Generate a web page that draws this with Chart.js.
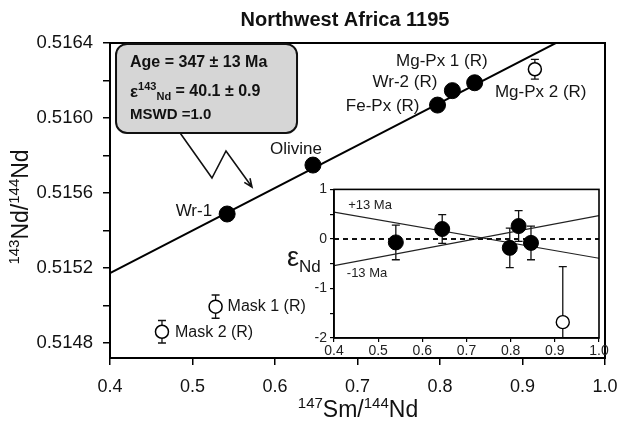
<!DOCTYPE html>
<html>
<head>
<meta charset="utf-8">
<script src="https://cdn.jsdelivr.net/npm/chart.js@4.4.0/dist/chart.umd.min.js"></script>
<style>
  body { margin: 0; background: #fff; }
  #wrap { position: relative; width: 633px; height: 424px; }
  #main { position: absolute; left: 0; top: 0; }
  #inset { position: absolute; left: 280px; top: 178px; }
</style>
</head>
<body>
<div id="wrap">
  <canvas id="main" width="633" height="424"></canvas>
  <canvas id="inset" width="340" height="185"></canvas>
</div>
<script>
const FONT = '"Liberation Sans", Arial, sans-serif';

// Sm-Nd isochron data
const sampleNames = ["Wr-1", "Olivine", "Fe-Px (R)", "Wr-2 (R)", "Mg-Px 1 (R)", "Mg-Px 2 (R)", "Mask 1 (R)", "Mask 2 (R)"];
const smNd = [0.542, 0.646, 0.797, 0.815, 0.842, 0.915, 0.528, 0.463];
const ndNd = [0.515488, 0.515749, 0.516069, 0.516146, 0.516188, 0.516260, 0.514994, 0.514860];
const ndErr = [0, 0, 0, 0, 0, 0.000053, 0.000062, 0.00006];
const onIsochron = [true, true, true, true, true, false, false, false];

// isochron line
const isoX = [0.4, 1.0];
const isoY = [0.515173, 0.516535];

const xTicks = [0.4, 0.5, 0.6, 0.7, 0.8, 0.9, 1.0];
const yTicks = [0.5148, 0.5150, 0.5152, 0.5154, 0.5156, 0.5158, 0.5160, 0.5162, 0.5164];
const yLabelled = ["0.5148", "0.5152", "0.5156", "0.5160", "0.5164"];

// inset: eps Nd deviation from the isochron
const epsX = [0.54, 0.645, 0.798, 0.818, 0.846, 0.918];
const epsNd = [-0.07, 0.2, -0.18, 0.26, -0.08, -1.68];
const epsErr = [0.35, 0.29, 0.4, 0.31, 0.34, 1.12];
const epsOpen = [false, false, false, false, false, true];
const boundX = [0.4, 1.0];
const plus13 = [0.54, -0.39];
const minus13 = [-0.54, 0.47];
const zeroLine = [0, 0];
const epsXTicks = [0.4, 0.5, 0.6, 0.7, 0.8, 0.9, 1.0];
const epsYTicks = [-2, -1.5, -1, -0.5, 0, 0.5, 1];

// where the sample names sit, relative to their point (pixels)
const labelPos = {
  "Wr-1": { dx: -15, dy: -3, align: "right" },
  "Olivine": { dx: -17, dy: -16, align: "center" },
  "Fe-Px (R)": { dx: -18, dy: 1, align: "right" },
  "Wr-2 (R)": { dx: -15, dy: -8, align: "right" },
  "Mg-Px 1 (R)": { dx: 13, dy: -21, align: "right" },
  "Mg-Px 2 (R)": { dx: -40, dy: 23, align: "left" },
  "Mask 1 (R)": { dx: 12, dy: 0, align: "left" },
  "Mask 2 (R)": { dx: 13, dy: 1, align: "left" }
};

// result box and zig-zag pointer, in data units
const boxX = [0.4073, 0.6267];
const boxY = [0.516395, 0.51592];
const arrowX = [0.485, 0.5236, 0.5406, 0.5721];
const arrowY = [0.51592, 0.51568, 0.515824, 0.515632];

// draw a run of text pieces with their own size / vertical shift
function richText(ctx, parts, x, y, align) {
  let total = 0;
  parts.forEach(p => {
    ctx.font = (p.bold ? "bold " : "") + p.size + "px " + FONT;
    p.w = ctx.measureText(p.t).width;
    total += p.w;
  });
  let cx = align === "center" ? x - total / 2 : x;
  parts.forEach(p => {
    ctx.font = (p.bold ? "bold " : "") + p.size + "px " + FONT;
    ctx.fillText(p.t, cx, y + (p.dy || 0));
    cx += p.w;
  });
}

function errorBars(ctx, area, xs, ys, errs, xScale, yScale, cap) {
  ctx.save();
  ctx.beginPath();
  ctx.rect(area.left, area.top, area.width, area.height);
  ctx.clip();
  ctx.strokeStyle = "#111";
  ctx.lineWidth = 1.3;
  xs.forEach((v, i) => {
    if (!errs[i]) return;
    const px = xScale.getPixelForValue(v);
    const top = yScale.getPixelForValue(ys[i] + errs[i]);
    const bot = yScale.getPixelForValue(ys[i] - errs[i]);
    ctx.beginPath();
    ctx.moveTo(px, top); ctx.lineTo(px, bot);
    ctx.moveTo(px - cap, top); ctx.lineTo(px + cap, top);
    ctx.moveTo(px - cap, bot); ctx.lineTo(px + cap, bot);
    ctx.stroke();
  });
  ctx.restore();
}

const mainDecor = {
  id: "mainDecor",
  beforeDatasetsDraw(chart) {
    const { ctx, chartArea, scales } = chart;
    errorBars(ctx, chartArea, smNd, ndNd, ndErr, scales.x, scales.y, 4);
  },
  afterDatasetsDraw(chart) {
    const { ctx, chartArea: a, scales: { x, y } } = chart;
    ctx.save();
    // frame
    ctx.strokeStyle = "#000";
    ctx.lineWidth = 2;
    ctx.strokeRect(a.left, a.top, a.right - a.left, a.bottom - a.top);

    // sample names
    ctx.fillStyle = "#151515";
    ctx.textBaseline = "middle";
    sampleNames.forEach((name, i) => {
      const lp = labelPos[name];
      ctx.font = (name.startsWith("Mask") ? 16 : 17) + "px " + FONT;
      ctx.textAlign = lp.align;
      ctx.fillText(name, x.getPixelForValue(smNd[i]) + lp.dx, y.getPixelForValue(ndNd[i]) + lp.dy);
    });

    // result box
    const bx0 = x.getPixelForValue(boxX[0]), bx1 = x.getPixelForValue(boxX[1]);
    const by0 = y.getPixelForValue(boxY[0]), by1 = y.getPixelForValue(boxY[1]);
    ctx.beginPath();
    ctx.roundRect(bx0, by0, bx1 - bx0, by1 - by0, 11);
    ctx.fillStyle = "#d6d6d6";
    ctx.fill();
    ctx.lineWidth = 2;
    ctx.strokeStyle = "#111";
    ctx.stroke();

    ctx.fillStyle = "#111";
    ctx.textAlign = "left";
    const tx = bx0 + 14;
    richText(ctx, [{ t: "Age = 347 \u00b1 13 Ma", size: 16, bold: true }], tx, by0 + 19);
    richText(ctx, [
      { t: "\u03b5", size: 17, bold: true },
      { t: "143", size: 11, bold: true, dy: -5 },
      { t: "Nd", size: 11, bold: true, dy: 5 },
      { t: " = 40.1 \u00b1 0.9", size: 16, bold: true }
    ], tx, by0 + 48);
    richText(ctx, [{ t: "MSWD =1.0", size: 15, bold: true }], tx, by0 + 71);

    // zig-zag pointer
    const pts = arrowX.map((v, i) => [x.getPixelForValue(v), y.getPixelForValue(arrowY[i])]);
    ctx.beginPath();
    ctx.moveTo(pts[0][0], pts[0][1]);
    pts.slice(1).forEach(p => ctx.lineTo(p[0], p[1]));
    const [ex, ey] = pts[pts.length - 1];
    const [sx, sy] = pts[pts.length - 2];
    const ang = Math.atan2(ey - sy, ex - sx);
    ctx.moveTo(ex - 9 * Math.cos(ang - 0.4), ey - 9 * Math.sin(ang - 0.4));
    ctx.lineTo(ex, ey);
    ctx.lineTo(ex - 9 * Math.cos(ang + 0.4), ey - 9 * Math.sin(ang + 0.4));
    ctx.lineWidth = 1.6;
    ctx.stroke();
    ctx.restore();
  },
  afterDraw(chart) {
    const { ctx } = chart;
    ctx.save();
    ctx.fillStyle = "#111";
    ctx.textBaseline = "middle";
    ctx.textAlign = "left";
    // title
    richText(ctx, [{ t: "Northwest Africa 1195", size: 20, bold: true }], 345, 20, "center");
    // x title
    richText(ctx, [
      { t: "147", size: 15, dy: -7 },
      { t: "Sm/", size: 23 },
      { t: "144", size: 15, dy: -7 },
      { t: "Nd", size: 23 }
    ], 358, 411, "center");
    // y title
    ctx.translate(22, 207);
    ctx.rotate(-Math.PI / 2);
    richText(ctx, [
      { t: "143", size: 15, dy: -7 },
      { t: "Nd/", size: 23 },
      { t: "144", size: 15, dy: -7 },
      { t: "Nd", size: 23 }
    ], 0, 0, "center");
    ctx.restore();
  }
};

new Chart(document.getElementById("main"), {
  type: "scatter",
  data: {
    datasets: [
      {
        type: "line",
        data: isoX.map((v, i) => ({ x: v, y: isoY[i] })),
        borderColor: "#000",
        borderWidth: 2,
        pointRadius: 0,
        order: 3
      },
      {
        data: smNd.map((v, i) => ({ x: v, y: ndNd[i] })).filter((p, i) => onIsochron[i]),
        pointRadius: 8,
        backgroundColor: "#000",
        borderColor: "#000",
        order: 1
      },
      {
        data: smNd.map((v, i) => ({ x: v, y: ndNd[i] })).filter((p, i) => !onIsochron[i]),
        pointRadius: 6.5,
        backgroundColor: "#fff",
        borderColor: "#000",
        borderWidth: 1.5,
        order: 1
      }
    ]
  },
  options: {
    responsive: false,
    animation: false,
    layout: { padding: { top: 43, right: 28, left: 0, bottom: 0 } },
    plugins: { legend: { display: false }, tooltip: { enabled: false } },
    scales: {
      x: {
        type: "linear",
        min: 0.4,
        max: 1.0,
        afterBuildTicks: s => { s.ticks = xTicks.map(v => ({ value: v })); },
        afterFit: s => { s.height = 66; },
        ticks: { callback: v => v.toFixed(1), font: { size: 18, family: FONT }, color: "#111", padding: 11, maxRotation: 0 },
        grid: { drawOnChartArea: false, tickLength: 7, color: "#000", lineWidth: 1.5 },
        border: { color: "#000", width: 2 }
      },
      y: {
        min: 0.51472,
        max: 0.5164,
        afterBuildTicks: s => { s.ticks = yTicks.map(v => ({ value: v })); },
        afterFit: s => { s.width = 110; },
        ticks: {
          callback: v => yLabelled.includes(v.toFixed(4)) ? v.toFixed(4) : "",
          font: { size: 18.5, family: FONT },
          color: "#111",
          padding: 10
        },
        grid: { drawOnChartArea: false, tickLength: 7, color: "#000", lineWidth: 1.5 },
        border: { color: "#000", width: 2 }
      }
    }
  },
  plugins: [mainDecor]
});

const insetDecor = {
  id: "insetDecor",
  beforeDatasetsDraw(chart) {
    const { ctx, chartArea, scales } = chart;
    errorBars(ctx, chartArea, epsX, epsNd, epsErr, scales.x, scales.y, 4);
  },
  afterDatasetsDraw(chart) {
    const { ctx, chartArea: a, scales: { x, y } } = chart;
    ctx.save();
    ctx.strokeStyle = "#000";
    ctx.lineWidth = 1.6;
    ctx.strokeRect(a.left, a.top, a.right - a.left, a.bottom - a.top);
    ctx.fillStyle = "#222";
    ctx.font = "13px " + FONT;
    ctx.textBaseline = "middle";
    ctx.textAlign = "left";
    ctx.fillText("+13 Ma", x.getPixelForValue(0.432), y.getPixelForValue(0.68));
    ctx.fillText("-13 Ma", x.getPixelForValue(0.429), y.getPixelForValue(-0.70));
    ctx.restore();
  },
  afterDraw(chart) {
    const { ctx, chartArea: a } = chart;
    ctx.save();
    ctx.fillStyle = "#151515";
    ctx.textBaseline = "middle";
    ctx.textAlign = "left";
    richText(ctx, [
      { t: "\u03b5", size: 27 },
      { t: "Nd", size: 17, dy: 9 }
    ], a.left - 47, a.top + 69);
    ctx.restore();
  }
};

new Chart(document.getElementById("inset"), {
  type: "scatter",
  data: {
    datasets: [
      {
        type: "line",
        data: boundX.map((v, i) => ({ x: v, y: zeroLine[i] })),
        borderColor: "#111",
        borderWidth: 2,
        borderDash: [5, 4],
        pointRadius: 0,
        order: 3
      },
      {
        type: "line",
        data: boundX.map((v, i) => ({ x: v, y: plus13[i] })),
        borderColor: "#222",
        borderWidth: 1.2,
        pointRadius: 0,
        order: 3
      },
      {
        type: "line",
        data: boundX.map((v, i) => ({ x: v, y: minus13[i] })),
        borderColor: "#222",
        borderWidth: 1.2,
        pointRadius: 0,
        order: 3
      },
      {
        data: epsX.map((v, i) => ({ x: v, y: epsNd[i] })).filter((p, i) => !epsOpen[i]),
        pointRadius: 7.5,
        backgroundColor: "#000",
        borderColor: "#000",
        order: 1
      },
      {
        data: epsX.map((v, i) => ({ x: v, y: epsNd[i] })).filter((p, i) => epsOpen[i]),
        pointRadius: 6.5,
        backgroundColor: "#fff",
        borderColor: "#000",
        borderWidth: 1.4,
        order: 1
      }
    ]
  },
  options: {
    responsive: false,
    animation: false,
    layout: { padding: { top: 8, right: 21, left: 0, bottom: 0 } },
    plugins: { legend: { display: false }, tooltip: { enabled: false } },
    scales: {
      x: {
        type: "linear",
        min: 0.4,
        max: 1.0,
        afterBuildTicks: s => { s.ticks = epsXTicks.map(v => ({ value: v })); },
        afterFit: s => { s.height = 25; },
        ticks: { callback: v => v.toFixed(1), font: { size: 14, family: FONT }, color: "#222", padding: 1, maxRotation: 0 },
        grid: { drawOnChartArea: false, tickLength: 4, color: "#000", lineWidth: 1.2 },
        border: { color: "#000", width: 1.6 }
      },
      y: {
        min: -2,
        max: 1,
        afterBuildTicks: s => { s.ticks = epsYTicks.map(v => ({ value: v })); },
        afterFit: s => { s.width = 54; },
        ticks: {
          callback: v => Number.isInteger(v) ? String(v) : "",
          font: { size: 14, family: FONT },
          color: "#222",
          padding: 3
        },
        grid: { drawOnChartArea: false, tickLength: 4, color: "#000", lineWidth: 1.2 },
        border: { color: "#000", width: 1.6 }
      }
    }
  },
  plugins: [insetDecor]
});
</script>
</body>
</html>
